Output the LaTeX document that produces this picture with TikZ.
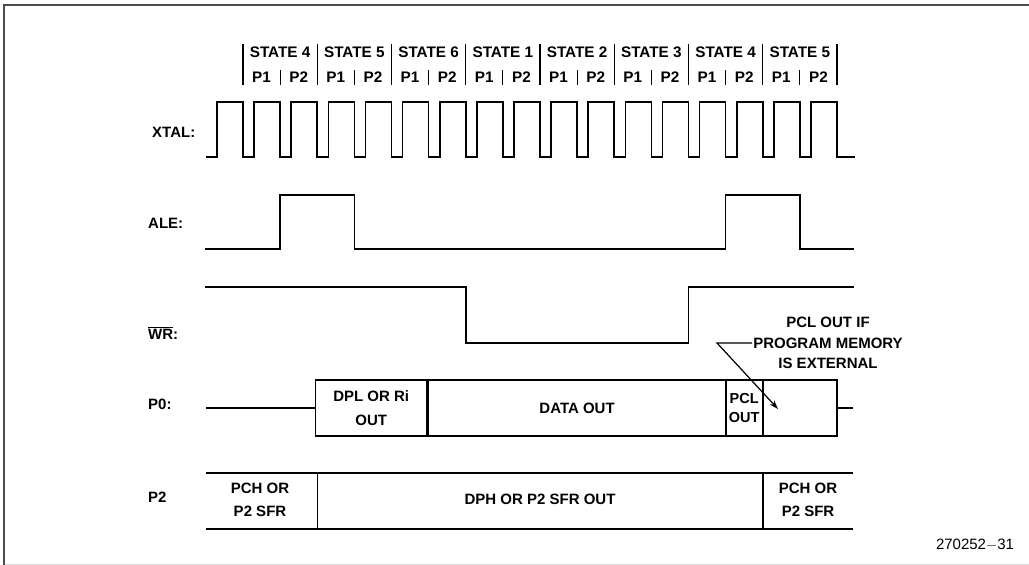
\documentclass[tikz,border=0pt]{standalone}
\usepackage{fontspec}
\setmainfont{Liberation Sans}
\usetikzlibrary{arrows.meta}
\begin{document}
\begin{tikzpicture}[x=1pt,y=-1pt,
  wave/.style={line width=1.7pt, line join=miter},
  hdr/.style={font=\fontsize{15.3}{18}\selectfont\bfseries, inner sep=0pt},
  sig/.style={font=\fontsize{15}{18}\selectfont\bfseries, inner sep=0pt, anchor=west},
  txt/.style={font=\fontsize{15}{23}\selectfont\bfseries, inner sep=0pt, align=center},
  pbox/.style={draw, line width=1.7pt, minimum height=56pt, inner sep=0pt, outer sep=0pt, align=center, font=\fontsize{15}{24}\selectfont\bfseries},
  sbar/.style={line width=1.1pt},
  frameline/.style={draw=black!70, line width=2pt}]
\useasboundingbox (0,0) rectangle (1029,565);
% frame
\draw[frameline] (1029,5) -- (3.5,5) -- (3.5,565);
\draw[black!15, line width=1pt] (4.5,564) -- (1029,564);
% header bars
\foreach \k in {0,2,...,16} \draw[sbar] ({243+37.125*\k},44) -- ({243+37.125*\k},85);
\foreach \k in {1,3,...,15} \draw[sbar] ({243+37.125*\k},70) -- ({243+37.125*\k},85);
\foreach \s [count=\i from 0] in {4,5,6,1,2,3,4,5}
  \node[hdr] (st\i) at ({243+74.25*\i+37.125},52) {STATE \s};
\foreach \k in {0,...,15}{
  \pgfmathtruncatemacro\p{mod(\k,2)+1}
  \node[hdr] (ph\k) at ({243+37.125*\k+18.56},77) {P\p};
}
% signal labels
\node[sig] (lxtal) at (152,132) {XTAL:};
\node[sig] (lale) at (148,223) {ALE:};
\node[sig] (lwr) at (148,333) {$\overline{\hbox{WR}}$:};
\node[sig] (lp0) at (148,404) {P0:};
\node[sig] (lp2) at (148,497) {P2};
% XTAL
\draw[wave] (206,157) foreach \k in {0,...,16} {
  -- ({243+37.125*\k-26},157) -- ({243+37.125*\k-26},102)
  -- ({243+37.125*\k},102) -- ({243+37.125*\k},157) } -- (855,157);
% ALE
\draw[wave] (205,249) -- (280.1,249) -- (280.1,195) -- (354.4,195) -- (354.4,249)
  -- (725.6,249) -- (725.6,195) -- (799.9,195) -- (799.9,249) -- (854,249);
% WR
\draw[wave] (205,287) -- (465.8,287) -- (465.8,343) -- (688.5,343) -- (688.5,287) -- (854,287);
% P0
\node[pbox, minimum width=111.4pt] (dpl) at (371.2,408) {DPL OR Ri\\OUT};
\node[pbox, minimum width=297pt] (data) at (577.1,408) {DATA OUT};
\node[pbox, minimum width=37.1pt, font=\fontsize{14.5}{19}\selectfont\bfseries] (pcl) at (744.2,408) {PCL\\OUT};
\node[pbox, minimum width=74.2pt] (ext) at (799.9,408) {};
\coordinate (p0start) at (206,408);
\coordinate (p0end) at (853,408);
\draw[wave] (p0start) -- (dpl.west);
\draw[wave] (ext.east) -- (p0end);
% P2
\draw[wave] (206,473) -- (853,473);
\draw[wave] (206,529) -- (853,529);
\draw[wave] (317.5,473) -- (317.5,529);
\draw[wave] (762.8,473) -- (762.8,529);
\node[txt] (pch1) at (260,500) {PCH OR\\P2 SFR};
\node[txt] (dph) at (540,499) {DPH OR P2 SFR OUT};
\node[txt] (pch2) at (808,500) {PCH OR\\P2 SFR};
% annotation
\node[txt, font=\fontsize{15}{20.5}\selectfont\bfseries, inner sep=1pt] (note) at (828,343) {PCL OUT IF\\PROGRAM MEMORY\\IS EXTERNAL};
\coordinate (elbow) at (717,343);
\coordinate (tip) at (778,409);
\draw[line width=1.2pt, -{Stealth[length=9pt,width=6pt]}] (note.west) -- (elbow) -- (tip);
% figure number
\node[font=\fontsize{15}{18}\selectfont, inner sep=0pt] (fig) at (975,545) {270252$-$31};
\end{tikzpicture}
\end{document}
